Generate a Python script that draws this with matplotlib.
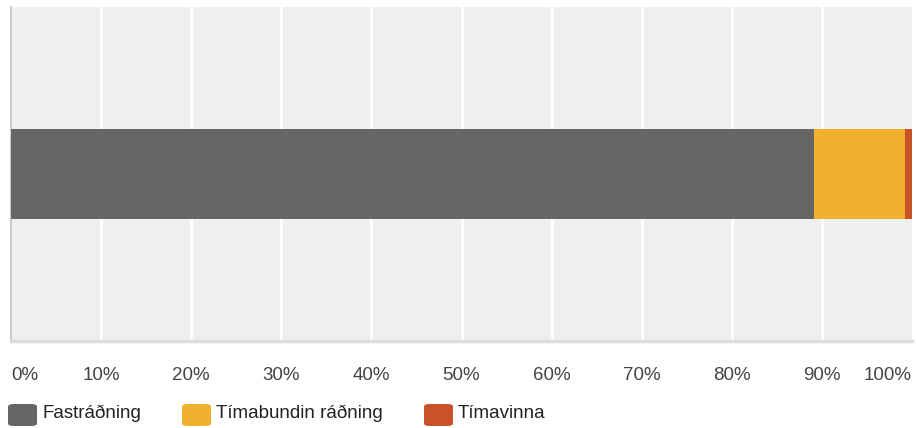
import matplotlib.pyplot as plt
from matplotlib.patches import FancyBboxPatch

plt.rcParams['font.family'] = ['Liberation Sans', 'DejaVu Sans']

categories = ['Fastráðning', 'Tímabundin ráðning', 'Tímavinna']
values = [89.1, 10.1, 0.8]
colors = ['#666666', '#F0B22E', '#C9522A']
ticks = [0, 10, 20, 30, 40, 50, 60, 70, 80, 90, 100]
tick_labels = ['%d%%' % t for t in ticks]

W, H = 916, 428
fig = plt.figure(figsize=(W / 100, H / 100), dpi=100)
ax = fig.add_axes([11 / W, 1 - 341 / H, (912 - 11) / W, (341 - 7) / H])
ax.set_facecolor('#EFEFEF')

left = 0
for name, v, c in zip(categories, values, colors):
    ax.barh(0, v, left=left, height=1, color=c, zorder=3)
    left += v

ax.set_xlim(0, 100)
ax.set_ylim(-1.86, 1.85)
for t in ticks[1:-1]:
    ax.axvline(t, color='white', lw=2, zorder=1)
ax.set_yticks([])
ax.set_xticks([])
for s in ['top', 'right']:
    ax.spines[s].set_visible(False)
ax.spines['left'].set_color('#CCCCCC')
ax.spines['left'].set_linewidth(1.5)
ax.spines['bottom'].set_color('#DDDDDD')
ax.spines['bottom'].set_linewidth(2.5)

# tick labels, baseline at y=380 px
ty = 1 - (380 - 7) / (341 - 7)
for i, (t, lab) in enumerate(zip(ticks, tick_labels)):
    ha = 'center'
    xp = t
    if i == 0:
        ha = 'left'
    elif i == len(ticks) - 1:
        ha = 'right'
        xp = 100
    ax.text(xp, ty, lab, transform=ax.get_xaxis_transform(), ha=ha, va='baseline',
            fontsize=13.5, color='#444444')

# legend
leg_x = [8, 182, 424]
for x0, name, c in zip(leg_x, categories, colors):
    box = FancyBboxPatch((x0 / W, 1 - 426 / H), 29 / W, 22 / H,
                         boxstyle='round,pad=0,rounding_size=0.006',
                         transform=fig.transFigure, facecolor=c, edgecolor='none')
    fig.patches.append(box)
    fig.text((x0 + 34) / W, 1 - 418 / H, name, ha='left', va='baseline',
             fontsize=13.5, color='#222222')

fig.savefig('out.png', dpi=100)
